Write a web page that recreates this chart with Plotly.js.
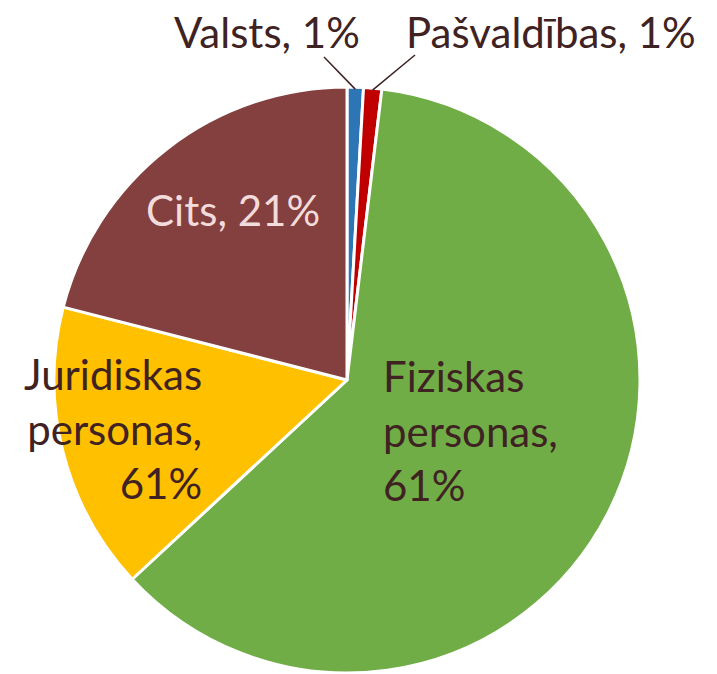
<!DOCTYPE html>
<html>
<head>
<meta charset="utf-8">
<script src="https://cdn.plot.ly/plotly-3.0.1.min.js"></script>
<style>html,body{margin:0;padding:0;background:#fff;}#chart{width:717px;height:674px;}</style>
</head>
<body>
<div id="chart"></div>
<script>
const labels = ['Valsts', 'Pašvaldības', 'Fiziskas personas', 'Juridiskas personas', 'Cits'];
const values = [0.9, 1.0, 61.2, 15.9, 21.0];
const colors = ['#2E75B6', '#C00000', '#70AD47', '#FFC000', '#843F3F'];
const labelTexts = ['Valsts, 1%', 'Pašvaldības, 1%', 'Fiziskas<br>personas,<br>61%', 'Juridiskas<br>personas,<br>61%', 'Cits, 21%'];

const W = 717, H = 674;
const cx = 347, cy = 380, R = 293;
const px = x => x / W;
const py = y => 1 - y / H;

const dark = '#3F2222';
const font = 'Lato, "Open Sans", sans-serif';
const fs = 42;

// label placement (pixel coords of anchor)
const labelPos = [
  {x: 267, y: 32, xa: 'center', ya: 'middle', align: 'center', color: dark},
  {x: 551, y: 32, xa: 'center', ya: 'middle', align: 'center', color: dark},
  {x: 381, y: 430, xa: 'left', ya: 'middle', align: 'left', color: dark},
  {x: 204, y: 428, xa: 'right', ya: 'middle', align: 'right', color: dark},
  {x: 233, y: 210, xa: 'center', ya: 'middle', align: 'center', color: '#F2DCDB'}
];
const leaderStart = [[324, 57], [415, 55]];

const total = values.reduce((a, b) => a + b, 0);
let cum = 0;
const mids = values.map(v => { const m = cum + v / 2; cum += v; return m / total * 2 * Math.PI; });

const annotations = labelTexts.map((t, i) => ({
  text: t, x: px(labelPos[i].x), y: py(labelPos[i].y), xref: 'paper', yref: 'paper',
  xanchor: labelPos[i].xa, yanchor: labelPos[i].ya, align: labelPos[i].align,
  showarrow: false, font: {family: font, size: fs, color: labelPos[i].color}
}));

const shapes = leaderStart.map((s, i) => {
  const a = mids[i];
  const tx = cx + (R - 2) * Math.sin(a), ty = cy - (R - 2) * Math.cos(a);
  return {type: 'line', xref: 'paper', yref: 'paper', x0: px(s[0]), y0: py(s[1]), x1: px(tx), y1: py(ty),
    line: {color: dark, width: 1.5}};
});

const trace = {
  type: 'pie', labels: labels, values: values, sort: false, direction: 'clockwise', rotation: 0,
  marker: {colors: colors, line: {color: '#FFFFFF', width: 3}},
  textinfo: 'none', hoverinfo: 'none', showlegend: false,
  domain: {x: [px(cx - R), px(cx + R)], y: [py(cy + R), py(cy - R)]}
};

Plotly.newPlot('chart', [trace], {
  width: W, height: H, margin: {l: 0, r: 0, t: 0, b: 0},
  paper_bgcolor: '#fff', showlegend: false,
  annotations: annotations, shapes: shapes
}, {displayModeBar: false, staticPlot: true});
</script>
</body>
</html>
